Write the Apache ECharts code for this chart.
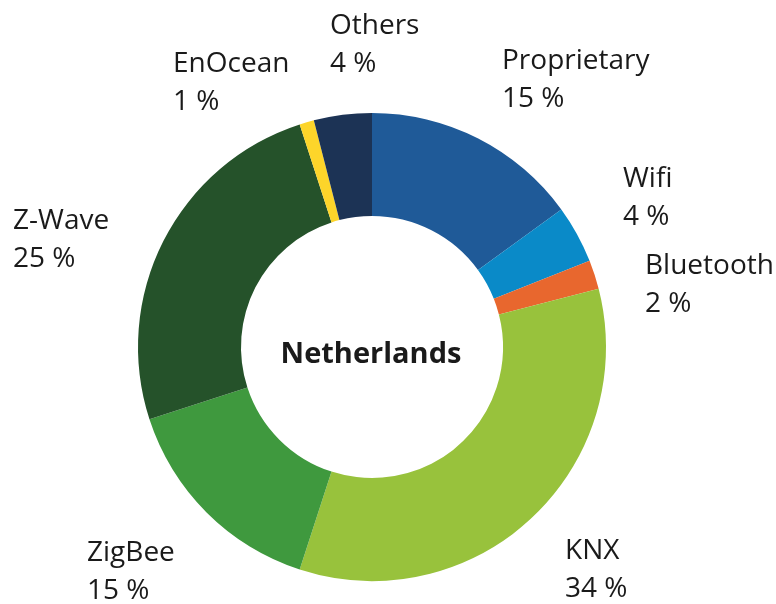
<!DOCTYPE html>
<html style="height: 100%">
    <head>
        <meta charset="utf-8">
        <script type="text/javascript" src="https://cdn.jsdelivr.net/npm/echarts@6/dist/echarts.min.js"></script>
    </head>
    <body style="height: 100%; margin: 0; background-color: #ffffff">
        <div id="container" style="width: 776px; height: 604px"></div>
        <script type="text/javascript">
        // 数据
        var names = ['Proprietary', 'Wifi', 'Bluetooth', 'KNX', 'ZigBee', 'Z-Wave', 'EnOcean', 'Others'];
        var shares = [15, 4, 2, 34, 15, 25, 1, 4];
        var colors = ['#1f5a98', '#0a8ac8', '#e8672e', '#98c23c', '#3f993e', '#25522a', '#fdd52a', '#1c3355'];
        var centerTitle = 'Netherlands';

        // label positions (left, top) for each slice
        var labelPos = [[502, 42], [623, 160], [645, 247], [565, 532], [87, 534], [13, 202], [173, 45], [330, 7]];

        var dom = document.getElementById("container");
        var chart = echarts.init(dom);

        var pieData = [];
        for (var i = 0; i < names.length; i++) {
            pieData.push({name: names[i], value: shares[i], itemStyle: {color: colors[i]}});
        }

        var option = {
            animation: false,
            title: {
                text: centerTitle,
                left: 366,
                top: 350,
                textAlign: 'center',
                textVerticalAlign: 'middle',
                textStyle: {
                    fontFamily: 'Open Sans',
                    fontWeight: 'bold',
                    fontSize: 29,
                    color: '#1a1a1a'
                }
            },
            series: [
                {
                    type: 'pie',
                    center: [372, 347],
                    radius: [131, 234],
                    startAngle: 90,
                    clockwise: true,
                    silent: true,
                    itemStyle: {borderWidth: 0},
                    label: {
                        show: true,
                        position: 'outside',
                        formatter: function (p) {
                            return p.name + '\n' + p.value + ' %';
                        },
                        fontFamily: 'Open Sans',
                        fontSize: 28,
                        lineHeight: 38,
                        color: '#1a1a1a',
                        align: 'left',
                        overflow: 'none',
                        width: 200
                    },
                    labelLine: {show: false},
                    labelLayout: function (params) {
                        var p = labelPos[params.dataIndex];
                        return {x: p[0], y: p[1], align: 'left', verticalAlign: 'top'};
                    },
                    data: pieData
                }
            ]
        };
        chart.setOption(option);
        </script>
    </body>
</html>
